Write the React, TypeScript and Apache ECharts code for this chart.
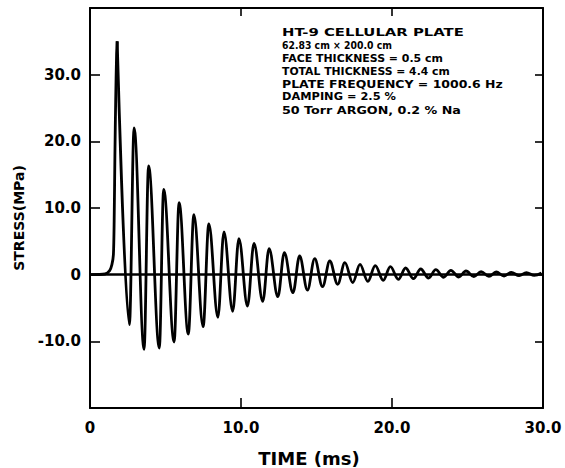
import React, { useEffect, useRef } from "react";
import * as echarts from "echarts";

// Axis ticks
const xTicks = [0, 10, 20, 30];
const yTicks = [-20, -10, 0, 10, 20, 30, 40];

// Initial rise of the stress trace (ms, MPa)
const riseTimes = [0, 1.0, 1.3, 1.45, 1.55, 1.6, 1.65, 1.7, 1.76, 1.8];
const riseValues = [0, 0.1, 0.6, 1.5, 3, 8, 18, 26, 33, 35];

// Oscillation peaks (ms, MPa)
const peakTimes = [
  1.8, 2.92, 3.88, 4.88, 5.9, 6.88, 7.87, 8.87, 9.86, 10.86, 11.86, 12.87, 13.88, 14.88, 15.88,
  16.88, 17.88, 18.89, 19.89, 20.9, 21.9, 22.9, 23.9, 24.9, 25.9, 26.9, 27.9, 28.9, 29.9,
];
const peakValues = [
  35.0, 22.0, 16.3, 12.8, 10.8, 9.0, 7.6, 6.4, 5.4, 4.7, 3.9, 3.3, 2.8, 2.4, 2.05, 1.8, 1.55,
  1.35, 1.2, 1.0, 0.85, 0.75, 0.65, 0.55, 0.45, 0.4, 0.35, 0.3, 0.25,
];
// Oscillation troughs (ms, MPa)
const troughTimes = [
  2.61, 3.58, 4.59, 5.57, 6.51, 7.49, 8.47, 9.45, 10.43, 11.44, 12.44, 13.44, 14.4, 15.4, 16.4,
  17.4, 18.4, 19.42, 20.42, 21.42, 22.42, 23.42, 24.42, 25.42, 26.42, 27.42, 28.42, 29.42,
];
const troughValues = [
  -7.5, -11.2, -11.0, -10.1, -8.9, -7.8, -6.4, -5.5, -4.7, -4.0, -3.3, -2.7, -2.3, -1.8, -1.45,
  -1.2, -1.0, -0.85, -0.7, -0.6, -0.5, -0.4, -0.35, -0.3, -0.25, -0.2, -0.15, -0.12,
];

// Annotation text
const noteLines = [
  "HT-9 CELLULAR PLATE",
  "62.83 cm \u00d7 200.0 cm",
  "FACE THICKNESS = 0.5 cm",
  "TOTAL THICKNESS = 4.4 cm",
  "PLATE FREQUENCY = 1000.6 Hz",
  "DAMPING = 2.5 %",
  "50 Torr ARGON, 0.2 % Na",
];
// layout for annotation lines
const noteWidths = [182, 110, 161, 168, 221, 114, 179];
const noteYs = [32.7, 45.7, 59, 71.7, 84.3, 96.7, 110];
const NOTE_X = 282;
const NOTE_FONT = 'bold 10.5px "DejaVu Sans"';

const fmt = (v: number) => (v === 0 ? "0" : v.toFixed(1));

export default function App() {
  const ref = useRef<HTMLDivElement>(null);
  useEffect(() => {
    if (!ref.current) return;
    const chart = echarts.init(ref.current, undefined, { renderer: "svg" });

    const rise = riseTimes.map((t, i) => [t, riseValues[i]]);
    const osc: number[][] = [];
    for (let i = 0; i < peakTimes.length; i++) {
      osc.push([peakTimes[i], peakValues[i]]);
      if (i < troughTimes.length) osc.push([troughTimes[i], troughValues[i]]);
    }

    const ctx = document.createElement("canvas").getContext("2d")!;
    ctx.font = NOTE_FONT;
    const notes = noteLines.map((s, i) => {
      const w = ctx.measureText(s).width || 1;
      return {
        type: "text",
        x: NOTE_X,
        y: noteYs[i],
        scaleX: noteWidths[i] / w,
        style: {
          text: s,
          font: NOTE_FONT,
          fill: "#000",
          textAlign: "left",
          textVerticalAlign: "middle",
        },
      };
    });

    const font = "DejaVu Sans";
    const axisLine = { show: true, onZero: false, lineStyle: { color: "#000", width: 2 } };
    const tickStyle = { color: "#000", width: 1.6 };

    chart.setOption({
      animation: false,
      backgroundColor: "#fff",
      grid: { left: 90, right: 22, top: 8, bottom: 60 },
      xAxis: [
        {
          type: "value",
          min: xTicks[0],
          max: xTicks[xTicks.length - 1],
          interval: 10,
          position: "bottom",
          axisLine,
          axisTick: { inside: true, length: 10, lineStyle: tickStyle },
          axisLabel: {
            formatter: fmt,
            color: "#000",
            fontSize: 15,
            fontWeight: "bold",
            fontFamily: font,
            margin: 12,
          },
          splitLine: { show: false },
        },
        {
          type: "value",
          min: xTicks[0],
          max: xTicks[xTicks.length - 1],
          interval: 10,
          position: "top",
          axisLine,
          axisTick: { inside: true, length: 8, lineStyle: tickStyle },
          axisLabel: { show: false },
          splitLine: { show: false },
        },
      ],
      yAxis: [
        {
          type: "value",
          min: yTicks[0],
          max: yTicks[yTicks.length - 1],
          interval: 10,
          position: "left",
          axisLine,
          axisTick: { inside: true, length: 10, lineStyle: tickStyle },
          axisLabel: {
            formatter: fmt,
            color: "#000",
            fontSize: 15,
            fontWeight: "bold",
            fontFamily: font,
            margin: 9,
            showMinLabel: false,
            showMaxLabel: false,
          },
          splitLine: { show: false },
        },
        {
          type: "value",
          min: yTicks[0],
          max: yTicks[yTicks.length - 1],
          interval: 10,
          position: "right",
          axisLine,
          axisTick: { inside: true, length: 8, lineStyle: tickStyle },
          axisLabel: { show: false },
          splitLine: { show: false },
        },
      ],
      series: [
        {
          name: "rise",
          type: "line",
          data: rise,
          showSymbol: false,
          smooth: 0.25,
          lineStyle: { color: "#000", width: 2.8 },
          z: 3,
        },
        {
          name: "stress",
          type: "line",
          data: osc,
          showSymbol: false,
          smooth: 0.36,
          smoothMonotone: "x",
          lineStyle: { color: "#000", width: 2.8 },
          z: 3,
          markLine: {
            silent: true,
            symbol: "none",
            label: { show: false },
            lineStyle: { color: "#000", width: 2.5, type: "solid" },
            data: [{ yAxis: 0 }],
          },
        },
      ],
      graphic: [
        ...notes,
        {
          type: "text",
          x: 19,
          y: 218,
          rotation: Math.PI / 2,
          style: {
            text: "STRESS(MPa)",
            font: 'bold 14px "DejaVu Sans"',
            fill: "#000",
            textAlign: "center",
            textVerticalAlign: "middle",
          },
        },
        {
          type: "text",
          x: 309,
          y: 458,
          style: {
            text: "TIME (ms)",
            font: 'bold 18px "DejaVu Sans"',
            fill: "#000",
            textAlign: "center",
            textVerticalAlign: "middle",
          },
        },
      ],
    });
    return () => chart.dispose();
  }, []);
  return (
    <div
      ref={ref}
      style={{ position: "fixed", left: 0, top: 0, width: 565, height: 468, background: "#fff" }}
    />
  );
}
